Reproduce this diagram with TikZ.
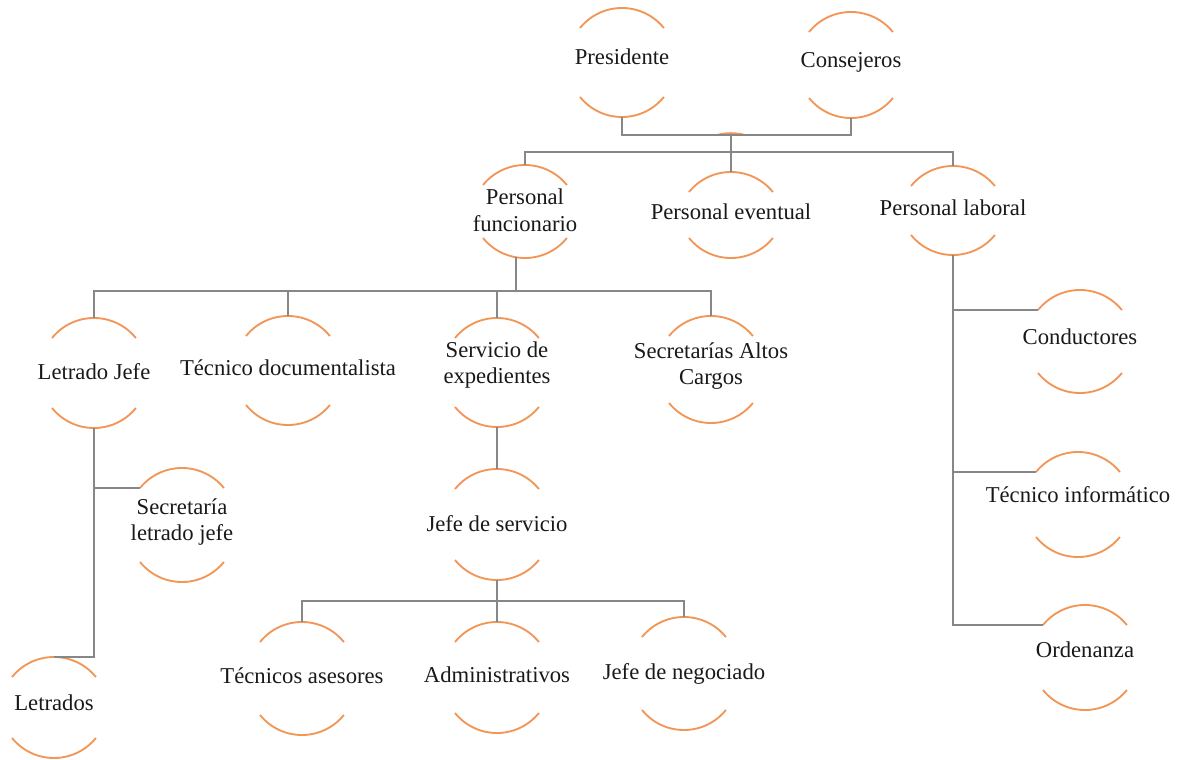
\documentclass[tikz,border=0pt]{standalone}
\usepackage{fontspec}
\setmainfont{Liberation Serif}
\definecolor{arcorange}{RGB}{242,150,88}
\definecolor{linegray}{RGB}{135,135,135}
\definecolor{txt}{RGB}{25,25,25}
\tikzset{
  orgarc/.style={draw=arcorange, line width=1.4pt},
  conn/.style={draw=linegray, line width=1.1pt},
  lbl/.style={align=center, inner sep=0pt, text=txt, font=\fontsize{17}{20}\selectfont}
}
% name, x, top, bottom, text y, text
\newcommand\orgbox[6]{%
  \node[lbl] (#1) at (#2,#5) {#6};
  \coordinate (#1-t) at (#2,#3);
  \coordinate (#1-b) at (#2,#4);
  \coordinate (#1-l) at ({#2-42},{#3+20});
  \coordinate (#1-bl) at ({#2-42},{#4-20});
  \draw[orgarc] (#1-l) arc[start angle=141,end angle=39,radius=40.5pt];
  \draw[orgarc] (#1-bl) arc[start angle=219,end angle=321,radius=40.5pt];
}
\begin{document}
\begin{tikzpicture}[x=0.75pt,y=-0.75pt]
\useasboundingbox (0,0) rectangle (1189,760);

% small arc fragment behind the top junction
\coordinate (frag) at (717,135);
\draw[orgarc] (frag) arc[start angle=105,end angle=75,radius=40.5pt];

\orgbox{pres}{622}{8}{117}{57}{Presidente}
\orgbox{cons}{851}{12}{118}{62}{Consejeros}
\orgbox{fun}{525}{165}{258}{210}{Personal\\funcionario}
\orgbox{eve}{731}{172}{258}{212}{Personal eventual}
\orgbox{lab}{953}{166}{255}{208}{Personal laboral}
\orgbox{ljefe}{94}{318}{428}{372}{Letrado Jefe}
\orgbox{tdoc}{288}{316}{425}{368}{Técnico documentalista}
\orgbox{sexp}{497}{318}{427}{365}{Servicio de\\expedientes}
\orgbox{sac}{711}{316}{423}{366}{Secretarías Altos\\Cargos}
\orgbox{sec}{182}{468}{582}{522}{Secretaría\\letrado jefe}
\orgbox{jser}{497}{469}{580}{524}{Jefe de servicio}
\orgbox{letr}{54}{657}{758}{703}{Letrados}
\orgbox{tase}{302}{622}{735}{676}{Técnicos asesores}
\orgbox{adm}{497}{622}{733}{675}{Administrativos}
\orgbox{jneg}{684}{617}{730}{674}{Jefe de negociado}
\orgbox{cond}{1080}{290}{393}{337}{Conductores}
\orgbox{tinf}{1078}{452}{557}{495}{Técnico informático}
\orgbox{ord}{1085}{605}{710}{650}{Ordenanza}

% junctions
\coordinate (j0) at (731,135);
\coordinate (j1) at (731,152);
\coordinate (fun-d) at (516,257);
\coordinate (j2) at (516,291);
\coordinate (j3) at (497,601);

% top level
\draw[conn] (pres-b) |- (j0);
\draw[conn] (cons-b) |- (j0);
\draw[conn] (j0) -- (eve-t);
\draw[conn] (fun-t) -- (fun-t |- j1) -- (lab-t |- j1) -- (lab-t);

% personal funcionario
\draw[conn] (fun-d) -- (j2);
\draw[conn] (ljefe-t) -- (ljefe-t |- j2) -- (sac-t |- j2) -- (sac-t);
\draw[conn] (tdoc-t) -- (tdoc-t |- j2);
\draw[conn] (sexp-t) -- (sexp-t |- j2);

% letrado jefe branch
\draw[conn] (ljefe-b) |- (letr-t);
\draw[conn] (ljefe-b |- sec-l) -- (sec-l);

% servicio de expedientes branch
\draw[conn] (sexp-b) -- (jser-t);
\draw[conn] (jser-b) -- (adm-t);
\draw[conn] (tase-t) -- (tase-t |- j3) -- (jneg-t |- j3) -- (jneg-t);

% personal laboral branch
\draw[conn] (lab-b) |- (ord-l);
\draw[conn] (lab-b |- cond-l) -- (cond-l);
\draw[conn] (lab-b |- tinf-l) -- (tinf-l);
\end{tikzpicture}
\end{document}
